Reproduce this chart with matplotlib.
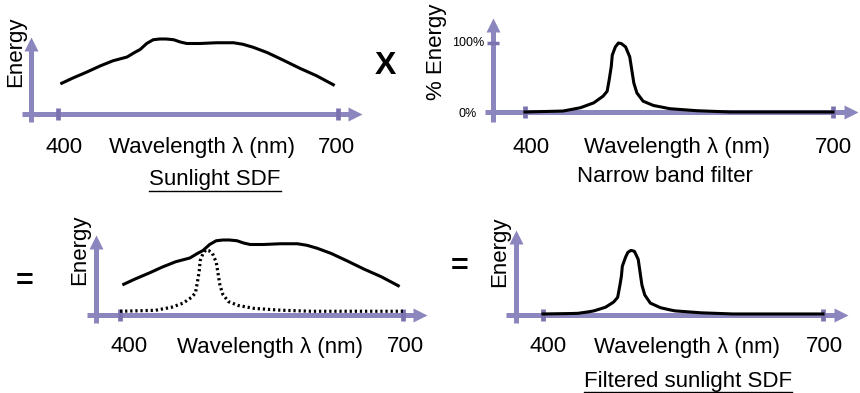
import numpy as np
import matplotlib.pyplot as plt
from matplotlib.lines import Line2D

plt.rcParams['font.family'] = ['Liberation Sans', 'DejaVu Sans']

# sunlight spectral distribution (relative energy)
sun_nm = [404, 416, 431, 445, 459, 474, 482, 488, 495, 502, 509, 516, 524, 531, 538,
          552, 570, 588, 598, 609, 624, 641, 659, 677, 695]
sun_energy = [0.41, 0.48, 0.56, 0.64, 0.71, 0.76, 0.82, 0.86, 0.94, 0.99, 1.00, 1.00, 0.99, 0.96, 0.94,
              0.94, 0.95, 0.95, 0.93, 0.89, 0.82, 0.72, 0.61, 0.51, 0.39]

# narrow band filter transmission (0..1)
filt_nm = [400, 437, 454, 467, 476, 480, 482, 484, 485, 488, 491, 494, 498, 502, 504,
           506, 509, 515, 525, 541, 567, 600, 700]
filt_energy = [0.0, 0.014, 0.062, 0.133, 0.229, 0.30, 0.467, 0.657, 0.824, 0.943, 1.0, 0.99, 0.943,
               0.80, 0.61, 0.42, 0.276, 0.157, 0.095, 0.048, 0.019, 0.0, 0.0]

tick_labels = ["400", "700"]
axis_label = "Wavelength \u03bb (nm)"

W, H = 860, 393
AXIS_COLOR = "#8b86bd"
TICK_COLOR = "#7a73b0"
FS = 16

fig = plt.figure(figsize=(W / 100, H / 100), dpi=100)


def panel(x400, x700, base, top):
    """Axes whose 400..700 nm and 0..1 energy land on the given pixel spots."""
    ax = fig.add_axes([x400 / W, 1 - base / H, (x700 - x400) / W, (base - top) / H])
    ax.set_xlim(400, 700)
    ax.set_ylim(0, 1)
    ax.axis("off")
    sx = 300 / (x700 - x400)
    sy = 1 / (base - top)
    nm = lambda px: 400 + (px - x400) * sx
    en = lambda py: (base - py) * sy
    return ax, nm, en


def draw_axes(ax, nm, en, y_x, y_bottom, y_tip, x_left, x_tip, head=14):
    kw = dict(color=AXIS_COLOR, lw=3.6, clip_on=False, solid_capstyle="butt", zorder=1)
    # horizontal axis
    ax.plot([nm(x_left), nm(x_tip - head + 1)], [0, 0], **kw)
    ax.plot([nm(x_tip - head / 2)], [0], marker=">", ms=head * 0.72, color=AXIS_COLOR,
            mec="none", clip_on=False, zorder=1)
    # vertical axis
    ax.plot([nm(y_x), nm(y_x)], [en(y_bottom), en(y_tip + head - 1)], **kw)
    ax.plot([nm(y_x)], [en(y_tip + head / 2)], marker="^", ms=head * 0.72, color=AXIS_COLOR,
            mec="none", clip_on=False, zorder=1)
    # 400 / 700 ticks
    ax.plot([400, 700], [0, 0], ls="none", marker="|", ms=8, mew=3.4, color=TICK_COLOR,
            clip_on=False, zorder=1)


def label_row(y, x400, xmid, x700):
    fig.text(x400 / W, 1 - y / H, tick_labels[0], ha="center", va="center", fontsize=FS)
    fig.text(xmid / W, 1 - y / H, axis_label, ha="center", va="center", fontsize=FS)
    fig.text(x700 / W, 1 - y / H, tick_labels[1], ha="center", va="center", fontsize=FS)


def underlined(x, y, s):
    t = fig.text(x / W, 1 - y / H, s, ha="center", va="center", fontsize=FS)
    fig.canvas.draw()
    bb = t.get_window_extent()
    yy = bb.y0 - 0.5
    fig.add_artist(Line2D([bb.x0 / W, bb.x1 / W], [yy / H, yy / H], color="black", lw=1.0))


grid = np.linspace(400, 700, 601)
sun_grid = np.interp(grid, sun_nm, sun_energy)
filt_grid = np.interp(grid, filt_nm, filt_energy)

# --- top left: sunlight
ax1, nm1, en1 = panel(58, 338, 114, 39)
draw_axes(ax1, nm1, en1, 31, 122, 37, 22, 362)
ax1.plot(sun_nm, sun_energy, color="black", lw=2.2, zorder=3, clip_on=False)
fig.text(16 / W, 1 - 52 / H, "Energy", rotation=90, ha="center", va="center", fontsize=FS)
label_row(147, 64, 202, 336)
underlined(215, 180, "Sunlight SDF")
fig.text(385 / W, 1 - 66 / H, "X", ha="center", va="center", fontsize=23, fontweight="bold")

# --- top right: filter
ax2, nm2, en2 = panel(525, 833, 112, 43)
draw_axes(ax2, nm2, en2, 493, 122, 18, 485, 858)
ax2.plot(filt_nm, filt_energy, color="black", lw=2.2, zorder=3, clip_on=False)
ax2.plot([nm2(493)], [1], marker="_", ms=8, mew=2.5, color=TICK_COLOR, clip_on=False)
fig.text(484 / W, 1 - 43 / H, "100%", ha="right", va="center", fontsize=9)
fig.text(477 / W, 1 - 114 / H, "0%", ha="right", va="center", fontsize=9)
fig.text(437 / W, 1 - 52 / H, "% Energy", rotation=90, ha="center", va="center", fontsize=FS)
label_row(147, 531, 677, 833)
fig.text(665 / W, 1 - 176 / H, "Narrow band filter", ha="center", va="center", fontsize=FS)

# --- bottom left: sunlight with filter overlaid
ax3, nm3, en3 = panel(120, 403, 315, 240)
draw_axes(ax3, nm3, en3, 96, 323, 235, 87, 427)
ax3.plot(sun_nm, sun_energy, color="black", lw=2.2, zorder=3, clip_on=False)
peak_nm = filt_nm[int(np.argmax(filt_energy))]
scale = np.interp(peak_nm, sun_nm, sun_energy) * 0.97
ax3.plot(grid, filt_grid * (scale - 0.05) + 0.05, color="black", lw=2.3, ls=(0, (0.7, 0.9)),
         zorder=3, clip_on=False)
fig.text(80 / W, 1 - 250 / H, "Energy", rotation=90, ha="center", va="center", fontsize=FS)
fig.text(25 / W, 1 - 282 / H, "=", ha="center", va="center", fontsize=22, fontweight="bold")
label_row(347, 129, 270, 405)

# --- bottom right: filtered sunlight
ax4, nm4, en4 = panel(543, 823, 315, 246)
draw_axes(ax4, nm4, en4, 516, 323, 230, 506, 848)
ax4.plot(grid, sun_grid * filt_grid + 0.015, color="black", lw=2.2, zorder=3, clip_on=False)
fig.text(500 / W, 1 - 252 / H, "Energy", rotation=90, ha="center", va="center", fontsize=FS)
fig.text(460 / W, 1 - 267 / H, "=", ha="center", va="center", fontsize=22, fontweight="bold")
label_row(347, 548, 687, 824)
underlined(688, 381, "Filtered sunlight SDF")

fig.savefig("out.png", dpi=100, facecolor="white")
